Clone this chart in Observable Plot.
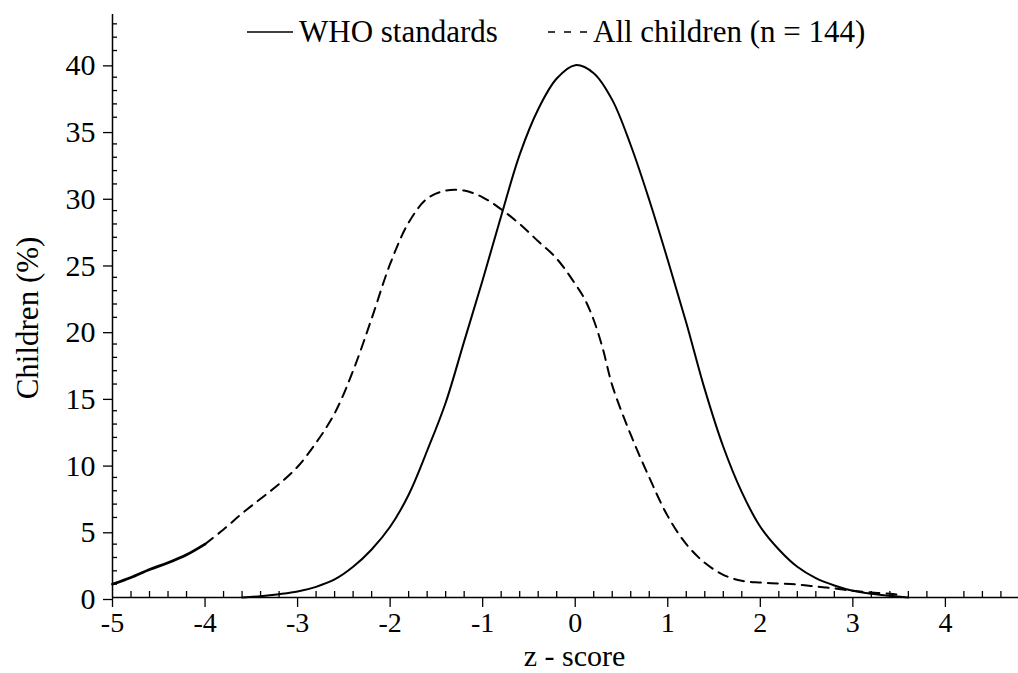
<!DOCTYPE html>
<html>
<head>
<meta charset="utf-8">
<script src="https://cdn.jsdelivr.net/npm/d3@7"></script>
<script src="https://cdn.jsdelivr.net/npm/@observablehq/plot@0.6"></script>
<style>
  html, body { margin: 0; padding: 0; background: #fff; }
  #wrap { position: relative; width: 1018px; height: 673px; font-family: "Liberation Serif", "Times New Roman", Times, "DejaVu Serif", serif; }
  #wrap svg text { font-family: "Liberation Serif", "Times New Roman", Times, "DejaVu Serif", serif; }
  .leg { position: absolute; top: 12px; font-size: 31px; line-height: 40px; color: #000; white-space: nowrap; display: flex; align-items: center; font-family: "Liberation Serif", "Times New Roman", Times, "DejaVu Serif", serif; }
  .leg svg { display: block; margin-right: 6px; }
</style>
</head>
<body>
<div id="wrap"></div>
<script>
// ---- data ----
const seriesNames = ["WHO standards", "All children (n = 144)"];

const whoZ   = [-3.6,-3.4,-3.2,-3.0,-2.8,-2.6,-2.4,-2.2,-2.0,-1.8,-1.6,-1.4,-1.2,-1.0,-0.8,-0.6,-0.4,-0.2,0.0,0.2,0.4,0.6,0.8,1.0,1.2,1.4,1.6,1.8,2.0,2.2,2.4,2.6,2.8,3.0,3.2,3.4,3.6];
const whoPct = [0.0,0.1,0.25,0.45,0.8,1.35,2.3,3.6,5.3,7.7,11.0,14.6,19.2,23.8,28.6,33.2,36.6,38.9,39.9,39.3,37.3,33.9,29.8,25.3,20.6,15.6,11.3,7.9,5.3,3.6,2.3,1.45,0.9,0.5,0.28,0.13,0.0];

const allZ   = [-5.0,-4.8,-4.6,-4.4,-4.2,-4.0,-3.8,-3.6,-3.4,-3.2,-3.0,-2.8,-2.6,-2.4,-2.2,-2.0,-1.8,-1.6,-1.4,-1.2,-1.0,-0.8,-0.6,-0.4,-0.2,0.0,0.1,0.2,0.3,0.4,0.6,0.8,1.0,1.2,1.4,1.6,1.8,2.0,2.2,2.4,2.6,2.8,3.0,3.2,3.4,3.5];
const allPct = [1.0,1.5,2.1,2.6,3.2,4.0,5.1,6.3,7.4,8.5,9.8,11.6,13.8,17.0,20.9,25.0,28.1,29.9,30.5,30.5,30.0,29.1,28.0,26.7,25.4,23.5,22.4,20.8,18.6,15.9,12.2,9.0,6.1,4.0,2.6,1.7,1.25,1.12,1.05,0.97,0.82,0.68,0.5,0.38,0.28,0.2];

const xMajor = [-5,-4,-3,-2,-1,0,1,2,3,4];
const xMinor = d3.range(-50, 48, 2).map(v => v / 10).filter(v => !Number.isInteger(v));
const yMajor = [0,5,10,15,20,25,30,35,40];
const yMinor = d3.range(1, 44).filter(v => v % 5 !== 0);
const xDomain = [-5, 4.79];
const yDomain = [0, 43.7];
const xLabel = "z - score";
const yLabel = "Children (%)";

// ---- tables ----
const who = whoZ.map((z, i) => ({z, pct: whoPct[i]}));
const all = allZ.map((z, i) => ({z, pct: allPct[i]}));
const allTail = all.filter(d => d.z <= -4);
const allMain = all.filter(d => d.z >= -4);

const serif = "'Liberation Serif', 'Times New Roman', Times, 'DejaVu Serif', serif";

const chart = Plot.plot({
  width: 1018,
  height: 673,
  marginLeft: 112,
  marginRight: 0,
  marginTop: 14,
  marginBottom: 76,
  style: {fontFamily: serif, background: "#fff", color: "#000", overflow: "visible"},
  x: {domain: xDomain},
  y: {domain: yDomain},
  marks: [
    Plot.axisY(yMajor, {tickSize: 9, tickPadding: 8, fontSize: 30, dy: 2, label: null, tickFormat: d => String(d), strokeWidth: 1.3}),
    Plot.axisY(yMinor, {tickSize: -5, tickFormat: () => "", label: null, strokeWidth: 1.3}),
    Plot.axisX(xMajor, {tickSize: 10, tickPadding: 5, fontSize: 28, label: null, tickFormat: d => String(d), strokeWidth: 1.3}),
    Plot.axisX(xMinor, {tickSize: -6, tickFormat: () => "", label: null, strokeWidth: 1.3}),
    Plot.ruleX([xDomain[0]], {stroke: "#000", strokeWidth: 1.5}),
    Plot.ruleY([0], {stroke: "#000", strokeWidth: 1.5}),
    Plot.lineY(who, {x: "z", y: "pct", curve: "catmull-rom", stroke: "#000", strokeWidth: 2}),
    Plot.lineY(allMain, {x: "z", y: "pct", curve: "catmull-rom", stroke: "#000", strokeWidth: 2, strokeDasharray: "10,7"}),
    Plot.lineY(allTail, {x: "z", y: "pct", curve: "catmull-rom", stroke: "#000", strokeWidth: 2.8}),
    Plot.text([xLabel], {frameAnchor: "bottom", lineAnchor: "bottom", textAnchor: "middle", dy: 68, dx: 9, fontSize: 30, fill: "#000"}),
    Plot.text([yLabel], {frameAnchor: "left", textAnchor: "middle", lineAnchor: "middle", rotate: -90, dx: -84, dy: 12, fontSize: 31, fill: "#000"})
  ]
});

const wrap = document.getElementById("wrap");
wrap.appendChild(chart);

// ---- legend (HTML overlay) ----
function legendItem(name, dash, left, w) {
  const div = document.createElement("div");
  div.className = "leg";
  div.style.left = left + "px";
  const sw = d3.create("svg").attr("width", w).attr("height", 10);
  sw.append("line").attr("x1", 0).attr("x2", w).attr("y1", 5).attr("y2", 5)
    .attr("stroke", "#000").attr("stroke-width", 1.5)
    .attr("stroke-dasharray", dash ? "7,9" : null);
  div.appendChild(sw.node());
  const span = document.createElement("span");
  span.textContent = name;
  div.appendChild(span);
  wrap.appendChild(div);
}
legendItem(seriesNames[0], false, 247, 46);
legendItem(seriesNames[1], true, 548, 39);
</script>
</body>
</html>
